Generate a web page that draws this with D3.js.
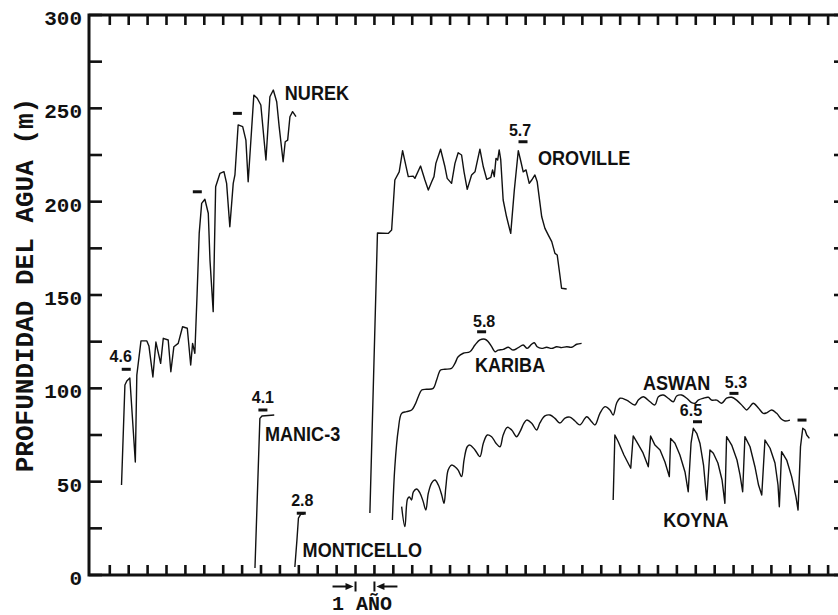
<!DOCTYPE html>
<html>
<head>
<meta charset="utf-8">
<script src="https://cdn.jsdelivr.net/npm/d3@7"></script>
<style>
  html, body { margin: 0; padding: 0; background: #fff; }
  svg { display: block; }
</style>
</head>
<body>
<svg id="chart" width="838" height="615"></svg>
<script>
// Water depth (m) in reservoirs over time (years), with induced earthquakes.
// Each series: [year, depth] pairs.
const nurek = [
  [1.62,48.2],[1.80,101.8],[1.90,103.9],[2.06,105.5],[2.35,60.5],[2.43,107.1],
  [2.65,125.4],[2.96,125.4],[3.07,122.7],[3.28,106.1],[3.44,124.8],[3.69,113.4],
  [3.83,126.8],[4.09,125.9],[4.23,108.9],[4.39,122.3],[4.62,124.1],[4.85,133.0],
  [5.10,132.2],[5.28,112.5],[5.38,124.1],[5.50,118.8],[5.62,150.9],[5.73,183.0],
  [5.86,199.1],[6.03,201.3],[6.21,193.8],[6.30,168.7],[6.47,141.1],[6.60,208.0],
  [6.83,215.2],[7.04,216.1],[7.18,209.8],[7.35,186.6],[7.53,209.8],[7.62,214.3],
  [7.79,241.1],[8.03,240.2],[8.20,233.0],[8.32,210.7],[8.50,238.4],[8.62,257.1],
  [8.80,255.4],[8.99,251.8],[9.26,222.3],[9.47,256.2],[9.65,259.8],[9.83,253.5],
  [9.96,240.2],[10.17,221.4],[10.28,232.1],[10.41,233.0],[10.53,245.5],[10.67,248.2],
  [10.85,245.5]
];
const manic3 = [[8.68,3.7],[8.94,83.9],[9.05,85.2],[9.70,85.7]];
const monticello = [[10.79,4.3],[10.90,18.7],[10.98,30.5],[11.11,32.7],[11.27,32.7]];
const oroville = [
  [14.76,33.2],[15.16,183.2],[15.73,183.0],[15.91,184.8],[16.08,211.6],[16.31,216.0],
  [16.49,227.3],[16.79,213.4],[17.05,213.7],[17.14,212.5],[17.44,219.1],[17.67,211.6],
  [17.85,206.2],[18.03,210.7],[18.15,213.4],[18.25,220.5],[18.50,228.1],[18.73,218.7],
  [18.85,212.5],[19.08,209.8],[19.26,220.5],[19.43,226.2],[19.61,225.0],[19.74,216.0],
  [19.91,206.6],[20.14,214.3],[20.32,216.0],[20.58,228.1],[20.76,218.7],[20.94,212.0],
  [21.16,213.0],[21.25,217.0],[21.34,213.4],[21.43,223.2],[21.52,222.3],[21.60,227.7],
  [21.68,222.7],[21.81,200.9],[21.99,191.9],[22.21,183.0],[22.40,206.2],[22.61,227.3],
  [22.75,221.4],[22.87,216.0],[23.02,217.0],[23.19,209.8],[23.32,211.6],[23.49,214.3],
  [23.61,210.7],[23.85,191.9],[24.02,185.7],[24.20,182.1],[24.38,178.6],[24.55,172.3],
  [24.67,171.4],[24.81,160.7],[24.90,153.6],[25.17,153.2]
];
const kariba = [
  [15.95,29.5],[16.08,58.0],[16.26,77.7],[16.44,86.6],[16.70,87.5],[16.97,88.4],
  [17.14,91.1],[17.32,95.5],[17.50,99.1],[17.76,99.5],[18.11,100.0],[18.29,104.5],
  [18.50,109.8],[18.73,110.2],[19.08,110.7],[19.26,113.4],[19.43,116.9],[19.70,118.8],
  [20.05,119.6],[20.32,123.2],[20.58,125.9],[20.85,126.3],[21.02,125.0],[21.20,122.3],
  [21.38,119.6],[21.55,120.5],[21.82,120.9],[22.08,122.0],[22.34,120.5],[22.61,121.8],
  [22.87,123.2],[23.08,121.4],[23.32,123.7],[23.46,124.4],[23.61,122.3],[23.85,121.4],
  [24.11,122.0],[24.38,121.4],[24.64,122.3],[24.90,121.8],[25.17,122.3],[25.43,122.0],
  [25.70,123.6],[25.96,124.1]
];
const aswan = [
  [16.44,36.6],[16.61,25.9],[16.75,40.7],[16.85,41.8],[16.96,40.2],[17.06,44.5],
  [17.23,46.1],[17.41,43.9],[17.58,39.3],[17.72,34.8],[17.85,43.8],[18.03,49.4],
  [18.20,50.9],[18.38,48.2],[18.56,42.9],[18.68,38.4],[18.78,47.3],[18.90,56.2],
  [19.08,58.9],[19.26,58.0],[19.43,56.2],[19.61,52.7],[19.74,61.6],[19.91,68.7],
  [20.05,69.6],[20.32,67.0],[20.58,63.4],[20.76,70.6],[20.97,75.0],[21.20,74.1],
  [21.43,70.6],[21.64,68.7],[21.81,75.0],[22.03,79.1],[22.26,77.7],[22.52,74.1],
  [22.70,76.8],[22.91,81.3],[23.05,83.0],[23.32,81.3],[23.58,77.7],[23.76,81.6],
  [24.02,85.2],[24.29,85.7],[24.55,83.9],[24.81,81.4],[25.08,84.1],[25.34,84.6],
  [25.61,82.5],[25.87,80.4],[26.23,84.8],[26.49,82.1],[26.67,80.4],[26.93,86.6],
  [27.20,90.2],[27.46,88.4],[27.63,85.7],[27.81,92.0],[27.99,94.7],[28.34,93.7],
  [28.78,91.1],[28.96,93.7],[29.22,95.5],[29.58,92.8],[29.84,91.1],[30.02,95.5],
  [30.28,96.4],[30.54,94.7],[30.81,92.8],[30.99,95.9],[31.25,96.4],[31.52,94.7],
  [31.78,92.3],[31.96,92.0],[32.13,93.7],[32.40,94.7],[32.66,95.2],[32.84,93.7],
  [33.11,93.7],[33.37,92.0],[33.63,94.7],[33.90,95.2],[34.16,93.7],[34.51,90.2],
  [34.69,88.4],[34.87,90.2],[35.04,92.0],[35.31,89.5],[35.57,86.6],[35.75,86.9],
  [36.02,88.4],[36.28,86.6],[36.54,83.4],[36.72,82.5],[36.98,83.0]
];
const koyna = [
  [27.63,40.2],[27.72,75.0],[27.90,71.4],[28.20,64.3],[28.56,57.2],[28.69,74.5],
  [28.94,70.2],[29.21,65.4],[29.49,58.0],[29.61,74.5],[29.84,69.6],[30.11,67.0],
  [30.37,60.5],[30.60,52.7],[30.67,73.2],[30.90,70.6],[31.16,64.3],[31.43,55.2],
  [31.60,44.6],[31.75,70.7],[31.87,78.6],[32.05,75.9],[32.22,70.6],[32.41,58.9],
  [32.58,40.2],[32.75,67.0],[32.93,65.2],[33.17,60.0],[33.39,50.9],[33.54,38.4],
  [33.63,74.1],[33.90,69.6],[34.18,61.6],[34.34,53.6],[34.48,44.6],[34.60,74.1],
  [34.87,68.7],[35.13,58.0],[35.32,48.2],[35.49,42.9],[35.66,72.3],[35.93,67.9],
  [36.19,60.0],[36.35,48.2],[36.42,36.6],[36.54,66.1],[36.81,61.6],[37.07,52.7],
  [37.30,41.8],[37.41,34.8],[37.54,68.7],[37.66,78.6],[37.78,77.7],[37.87,75.0],
  [38.01,73.2]
];

// Earthquakes: year, water depth at the time, magnitude ("" when not given)
const quakeYears     = [1.87, 5.63, 7.75, 9.10, 11.13, 22.86, 20.67, 34.02, 32.09, 37.62];
const quakeDepths    = [110.2, 205.3, 247.3, 88.4, 33.1, 232.1, 130.3, 97.3, 82.1, 83.0];
const quakeMagnitude = ["4.6", "", "", "4.1", "2.8", "5.7", "5.8", "5.3", "6.5", ""];

// Reservoir names and where their labels sit (year, depth of the baseline start)
const reservoirNames = ["NUREK", "OROVILLE", "KARIBA", "MANIC-3", "MONTICELLO", "ASWAN", "KOYNA"];
const nameYears      = [10.26, 23.65, 20.32, 9.21, 11.20, 29.21, 30.28];
const nameDepths     = [254.5, 219.6, 108.7, 71.8, 9.8, 99.1, 25.9];

const yTicks = d3.range(0, 301, 25);
const yLabels = [0, 50, 100, 150, 200, 250, 300];
const xTicks = d3.range(1, 40, 1);

// ---- layout ----
const svg = d3.select("#chart");
const frame = { left: 89, top: 15, bottom: 575, right: 847 };
const x = d3.scaleLinear().domain([-0.1, 40]).range([frame.left, frame.right]);
const y = d3.scaleLinear().domain([0, 300]).range([frame.bottom, frame.top]);

const ink = "#111";
const mono = "'Liberation Mono', 'DejaVu Sans Mono', monospace";
const sans = "'Liberation Sans', Arial, sans-serif";

// data lines
const straight = d3.line().x(d => x(d[0])).y(d => y(d[1]));
const smooth = d3.line().x(d => x(d[0])).y(d => y(d[1])).curve(d3.curveCatmullRom.alpha(0.5));

const lines = svg.append("g").attr("fill", "none").attr("stroke", ink)
  .attr("stroke-width", 1.4).attr("stroke-linejoin", "round");
[nurek, manic3, monticello, oroville, koyna].forEach(s => lines.append("path").attr("d", straight(s)));
[kariba, aswan].forEach(s => lines.append("path").attr("d", smooth(s)));

// frame
svg.append("path")
  .attr("d", `M${frame.right},${frame.top}H${frame.left}V${frame.bottom}H${frame.right}`)
  .attr("fill", "none").attr("stroke", ink).attr("stroke-width", 3);

// inward ticks: left/right every 25 m, top/bottom every year
const ticks = svg.append("g").attr("stroke", ink).attr("stroke-width", 2.6);
yTicks.forEach(v => {
  ticks.append("line").attr("x1", frame.left).attr("x2", frame.left + 13).attr("y1", y(v)).attr("y2", y(v));
  ticks.append("line").attr("x1", frame.right).attr("x2", frame.right - 13).attr("y1", y(v)).attr("y2", y(v));
});
xTicks.forEach(v => {
  ticks.append("line").attr("x1", x(v)).attr("x2", x(v)).attr("y1", frame.bottom).attr("y2", frame.bottom - 10);
  ticks.append("line").attr("x1", x(v)).attr("x2", x(v)).attr("y1", frame.top).attr("y2", frame.top + 10);
});

// y tick labels
svg.append("g").selectAll("text").data(yLabels).join("text")
  .attr("x", 82).attr("y", d => y(d) + 10)
  .attr("text-anchor", "end")
  .attr("font-family", mono).attr("font-weight", "bold").attr("font-size", 21)
  .attr("fill", ink).text(d => d);

// y axis title
svg.append("text")
  .attr("transform", `translate(33,285) rotate(-90)`)
  .attr("text-anchor", "middle")
  .attr("font-family", mono).attr("font-weight", "bold").attr("font-size", 26)
  .attr("fill", ink).text("PROFUNDIDAD DEL AGUA (m)");

// earthquake markers and magnitudes
const quakeLabelShift = { "4.6": [-5.5, -7], "4.1": [0, -7], "2.8": [1, -7], "5.7": [-3, -5.5],
  "5.8": [2.5, -4.5], "5.3": [2, -5.5], "6.5": [-6.5, -5.5] };
const quakes = svg.append("g");
quakeYears.forEach((t, i) => {
  const cx = x(t), cy = y(quakeDepths[i]);
  quakes.append("line").attr("x1", cx - 4.5).attr("x2", cx + 4.5).attr("y1", cy).attr("y2", cy)
    .attr("stroke", ink).attr("stroke-width", 3);
  const m = quakeMagnitude[i];
  if (m) {
    const [dx, dy] = quakeLabelShift[m];
    quakes.append("text").attr("x", cx + dx).attr("y", cy + dy)
      .attr("text-anchor", "middle")
      .attr("font-family", sans).attr("font-weight", "bold").attr("font-size", 16)
      .attr("fill", ink).text(m);
  }
});

// reservoir names
svg.append("g").selectAll("text").data(reservoirNames).join("text")
  .attr("transform", (d, i) => `translate(${x(nameYears[i])},${y(nameDepths[i])}) scale(0.86,1)`)
  .attr("font-family", sans).attr("font-weight", "bold").attr("font-size", 21)
  .attr("fill", ink).text(d => d);

// one-year scale marker under the axis
const yearA = x(14), yearB = x(15), ay = 586.5;
const scaleMark = svg.append("g").attr("stroke", ink).attr("fill", ink);
scaleMark.append("line").attr("x1", yearA - 23).attr("x2", yearA - 6).attr("y1", ay).attr("y2", ay).attr("stroke-width", 2);
scaleMark.append("path").attr("d", `M${yearA - 2},${ay}l-8,-3.5v7z`).attr("stroke", "none");
scaleMark.append("line").attr("x1", yearA).attr("x2", yearA).attr("y1", ay - 5).attr("y2", ay + 5).attr("stroke-width", 2);
scaleMark.append("line").attr("x1", yearB + 6).attr("x2", yearB + 23).attr("y1", ay).attr("y2", ay).attr("stroke-width", 2);
scaleMark.append("path").attr("d", `M${yearB + 2},${ay}l8,-3.5v7z`).attr("stroke", "none");
scaleMark.append("line").attr("x1", yearB).attr("x2", yearB).attr("y1", ay - 5).attr("y2", ay + 5).attr("stroke-width", 2);
svg.append("text").attr("x", (yearA + yearB) / 2 - 3).attr("y", 610)
  .attr("text-anchor", "middle")
  .attr("font-family", mono).attr("font-weight", "bold").attr("font-size", 20)
  .attr("fill", ink).text("1 AÑO");
</script>
</body>
</html>
